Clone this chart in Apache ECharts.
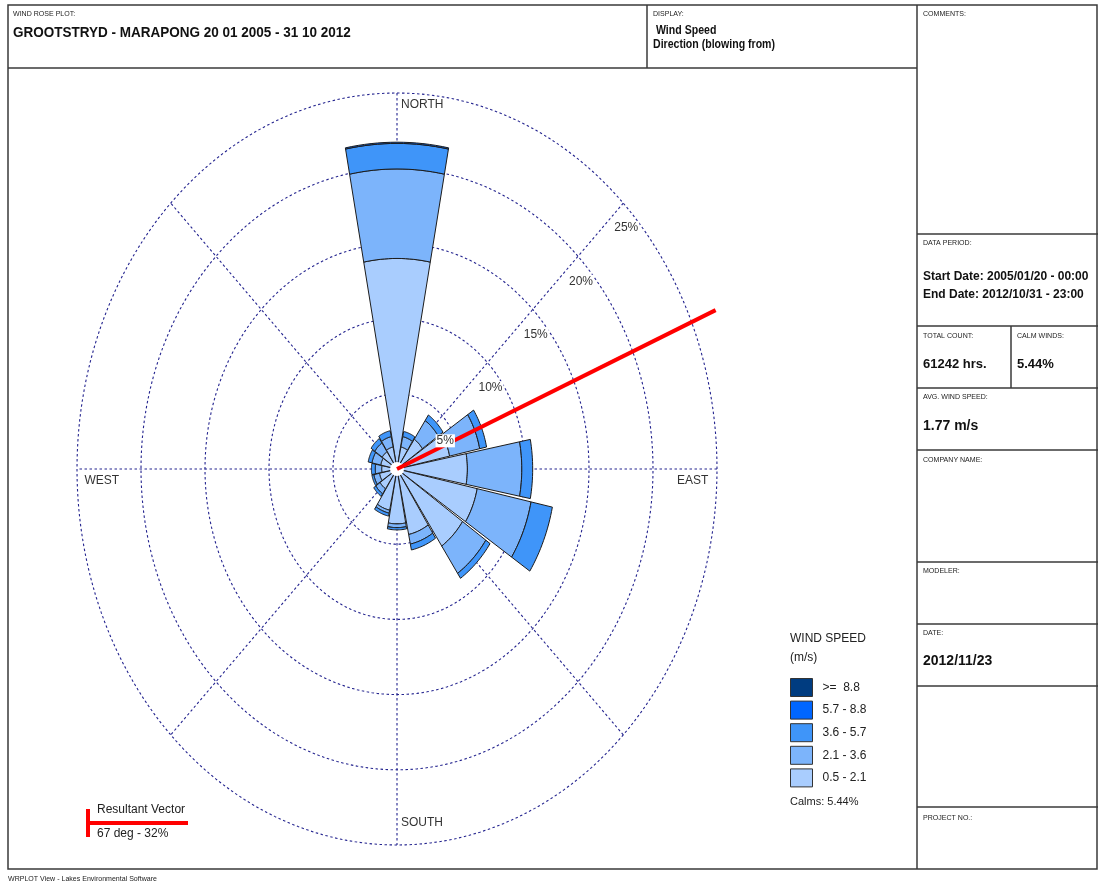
<!DOCTYPE html>
<html>
<head>
<meta charset="utf-8">
<script src="https://cdn.jsdelivr.net/npm/echarts@6/dist/echarts.min.js"></script>
<style>
  html, body { margin: 0; padding: 0; background: #fff; }
  #chart { width: 1098px; height: 883px; }
</style>
</head>
<body>
<div id="chart"></div>
<script>
// Wind rose: frequency (%) of hours per direction (blowing from) and speed class
const directions = ['N', 'NNE', 'NE', 'ENE', 'E', 'ESE', 'SE', 'SSE', 'S', 'SSW', 'SW', 'WSW', 'W', 'WNW', 'NW', 'NNW'];
const speedClasses = ['0.5 - 2.1', '2.1 - 3.6', '3.6 - 5.7', '5.7 - 8.8', '>=  8.8'];
const freq05to21 = [14.0, 1.5, 2.4, 4.2, 5.5, 6.4, 6.2, 4.45, 3.65, 2.8, 1.6, 1.4, 1.2, 1.3, 1.4, 1.5];
const freq21to36 = [5.95, 0.7, 1.5, 2.4, 4.25, 4.3, 2.2, 0.65, 0.25, 0.2, 0.4, 0.45, 0.5, 0.7, 0.7, 0.7];
const freq36to57 = [1.7, 0.35, 0.45, 0.55, 0.85, 1.7, 0.4, 0.4, 0.15, 0.2, 0.2, 0.15, 0.3, 0.3, 0.35, 0.4];
const freq57to88 = [0.08, 0, 0, 0, 0, 0, 0, 0, 0, 0, 0, 0, 0, 0, 0, 0];
const freq88up   = [0, 0, 0, 0, 0, 0, 0, 0, 0, 0, 0, 0, 0, 0, 0, 0];
const ringValues = [5, 10, 15, 20, 25];
const ringLabels = ['5%', '10%', '15%', '20%', '25%'];
const compassNames = ['NORTH', 'EAST', 'SOUTH', 'WEST'];
const calmsPct = 5.44;
const resultantDeg = 67;
const resultantPct = 32;

const classFreqs = [freq05to21, freq21to36, freq36to57, freq57to88, freq88up];
const classColors = ['#A9CDFE', '#7CB4FB', '#3F95F9', '#0066FF', '#003C80'];
const gridColor = '#24248F';
const sectorHalf = 10.7;          // half angular width of each direction bar (deg)
const vectorReach = 0.845;        // share of the resultant magnitude drawn on the radial scale
const maxR = 25;

const FONT = '"Liberation Sans", Arial, sans-serif';

function polarPt(api, r, deg) {
  const a = deg * Math.PI / 180;
  return api.coord([r * Math.sin(a), r * Math.cos(a)]);
}

// cumulative stacking of the speed classes
const series = [];
const base = directions.map(() => 0);
classFreqs.forEach((arr, k) => {
  const data = directions.map((d, i) => {
    const r0 = base[i];
    const r1 = r0 + arr[i];
    base[i] = r1;
    return [i, r0, r1];
  });
  series.push({
    type: 'custom',
    name: speedClasses[k],
    coordinateSystem: 'cartesian2d',
    z: 3,
    itemStyle: { color: classColors[k] },
    data: data,
    renderItem: function (params, api) {
      const i = api.value(0), r0 = api.value(1), r1 = api.value(2);
      if (r1 - r0 <= 0) return null;
      const c = i * 22.5;
      const pts = [];
      const steps = 16;
      for (let s = 0; s <= steps; s++) {
        pts.push(polarPt(api, r1, c - sectorHalf + 2 * sectorHalf * s / steps));
      }
      if (r0 <= 0) {
        pts.push(polarPt(api, 0, 0));
      } else {
        for (let s = steps; s >= 0; s--) {
          pts.push(polarPt(api, r0, c - sectorHalf + 2 * sectorHalf * s / steps));
        }
      }
      return {
        type: 'polygon',
        shape: { points: pts },
        style: { fill: classColors[k], stroke: '#1c1c1c', lineWidth: 1 }
      };
    }
  });
});

// dashed concentric rings
series.push({
  type: 'custom',
  coordinateSystem: 'cartesian2d',
  silent: true,
  z: 1,
  data: ringValues.map(v => [v]),
  renderItem: function (params, api) {
    const r = api.value(0);
    const pts = [];
    for (let s = 0; s <= 240; s++) pts.push(polarPt(api, r, s * 360 / 240));
    return {
      type: 'polyline',
      shape: { points: pts },
      style: { fill: null, stroke: gridColor, lineWidth: 1.1, lineDash: [2.5, 2.5] }
    };
  }
});

// dashed spokes every 45 degrees
series.push({
  type: 'custom',
  coordinateSystem: 'cartesian2d',
  silent: true,
  z: 1,
  data: [[0], [45], [90], [135]],
  renderItem: function (params, api) {
    const a = api.value(0);
    const p1 = polarPt(api, maxR, a), p2 = polarPt(api, maxR, a + 180);
    return {
      type: 'line',
      shape: { x1: p1[0], y1: p1[1], x2: p2[0], y2: p2[1] },
      style: { stroke: gridColor, lineWidth: 1.1, lineDash: [2.5, 2.5] }
    };
  }
});

// calm centre
series.push({
  type: 'custom',
  coordinateSystem: 'cartesian2d',
  silent: true,
  z: 4,
  data: [[calmsPct]],
  renderItem: function (params, api) {
    const c = polarPt(api, 0, 0);
    return { type: 'circle', shape: { cx: c[0], cy: c[1], r: 7 }, style: { fill: '#fff' } };
  }
});

// resultant vector
series.push({
  type: 'custom',
  coordinateSystem: 'cartesian2d',
  silent: true,
  z: 5,
  data: [[resultantDeg, resultantPct]],
  renderItem: function (params, api) {
    const c = polarPt(api, 0, 0);
    const e = polarPt(api, api.value(1) * vectorReach, api.value(0));
    return {
      type: 'line',
      shape: { x1: c[0], y1: c[1], x2: e[0], y2: e[1] },
      style: { stroke: '#FF0000', lineWidth: 4 }
    };
  }
});

// ring percentage labels
series.push({
  type: 'custom',
  coordinateSystem: 'cartesian2d',
  silent: true,
  z: 6,
  data: ringValues.map((v, i) => [v, i]),
  renderItem: function (params, api) {
    const p = polarPt(api, api.value(0), 45);
    return {
      type: 'text',
      x: p[0] + 3, y: p[1] + 25,
      style: {
        text: ringLabels[api.value(1)], fill: '#333', font: '12px ' + FONT,
        align: 'center', verticalAlign: 'middle',
        backgroundColor: '#fff', padding: [1, 1, 0, 1]
      }
    };
  }
});

// compass labels
const compassLayout = [
  { deg: 0,   r: 24.2, dx: 4,  dy: 0,  align: 'left' },
  { deg: 90,  r: 24.4, dx: -1, dy: 12, align: 'right' },
  { deg: 180, r: 23.5, dx: 4,  dy: 0,  align: 'left' },
  { deg: 270, r: 24.5, dx: 1,  dy: 12, align: 'left' }
];
series.push({
  type: 'custom',
  coordinateSystem: 'cartesian2d',
  silent: true,
  z: 6,
  data: compassNames.map((n, i) => [i]),
  renderItem: function (params, api) {
    const L = compassLayout[api.value(0)];
    const p = polarPt(api, L.r, L.deg);
    return {
      type: 'text',
      x: p[0] + L.dx, y: p[1] + L.dy,
      style: {
        text: compassNames[api.value(0)], fill: '#333', font: '12px ' + FONT,
        align: L.align, verticalAlign: 'middle'
      }
    };
  }
});

// page frame and info panels
const lineStyle = { stroke: '#3a3a3a', lineWidth: 1.5 };
function hline(x1, x2, y) { return { type: 'line', shape: { x1, y1: y, x2, y2: y }, style: lineStyle, silent: true }; }
function vline(x, y1, y2) { return { type: 'line', shape: { x1: x, y1, x2: x, y2 }, style: lineStyle, silent: true }; }
function txt(x, y, text, font, color, sx) {
  return { type: 'text', x, y, scaleX: sx || 1, silent: true, style: { text, font, fill: color || '#111', verticalAlign: 'middle' } };
}
const small = '8px ' + FONT;
const smallSx = 0.88;
const graphics = [
  { type: 'rect', shape: { x: 8, y: 5, width: 1089, height: 864 }, style: { fill: null, stroke: '#3a3a3a', lineWidth: 1.5 }, silent: true },
  hline(8, 917, 68), vline(647, 5, 68), vline(917, 5, 869),
  hline(917, 1098, 234), hline(917, 1098, 326), vline(1011, 326, 388), hline(917, 1098, 388),
  hline(917, 1098, 450), hline(917, 1098, 562), hline(917, 1098, 624), hline(917, 1098, 686), hline(917, 1098, 807),
  txt(13, 14, 'WIND ROSE PLOT:', small, '#222', smallSx),
  txt(13, 33, 'GROOTSTRYD - MARAPONG 20 01 2005 - 31 10 2012', 'bold 15px ' + FONT, '#111', 0.9),
  txt(653, 14, 'DISPLAY:', small, '#222', smallSx),
  txt(656, 31, 'Wind Speed', 'bold 12px ' + FONT, '#111', 0.88),
  txt(653, 45, 'Direction (blowing from)', 'bold 12px ' + FONT, '#111', 0.88),
  txt(923, 14, 'COMMENTS:', small, '#222', smallSx),
  txt(923, 243, 'DATA PERIOD:', small, '#222', smallSx),
  txt(923, 277, 'Start Date: 2005/01/20 - 00:00', 'bold 12px ' + FONT),
  txt(923, 295, 'End Date: 2012/10/31 - 23:00', 'bold 12px ' + FONT),
  txt(923, 336, 'TOTAL COUNT:', small, '#222', smallSx),
  txt(1017, 336, 'CALM WINDS:', small, '#222', smallSx),
  txt(923, 364, '61242 hrs.', 'bold 13px ' + FONT),
  txt(1017, 364, calmsPct.toFixed(2) + '%', 'bold 13px ' + FONT),
  txt(923, 397, 'AVG. WIND SPEED:', small, '#222', smallSx),
  txt(923, 426, '1.77 m/s', 'bold 14px ' + FONT),
  txt(923, 460, 'COMPANY NAME:', small, '#222', smallSx),
  txt(923, 571, 'MODELER:', small, '#222', smallSx),
  txt(923, 633, 'DATE:', small, '#222', smallSx),
  txt(923, 661, '2012/11/23', 'bold 14px ' + FONT),
  txt(923, 818, 'PROJECT NO.:', small, '#222', smallSx),
  txt(8, 879, 'WRPLOT View - Lakes Environmental Software', small, '#222', smallSx),
  txt(790, 639, 'WIND SPEED', '12px ' + FONT, '#222'),
  txt(790, 658, '(m/s)', '12px ' + FONT, '#222'),
  txt(790, 802, 'Calms: ' + calmsPct.toFixed(2) + '%', '11px ' + FONT, '#222'),
  // resultant vector key
  { type: 'line', shape: { x1: 88, y1: 809, x2: 88, y2: 837 }, style: { stroke: '#FF0000', lineWidth: 4 }, silent: true },
  { type: 'line', shape: { x1: 88, y1: 823, x2: 188, y2: 823 }, style: { stroke: '#FF0000', lineWidth: 4 }, silent: true },
  txt(97, 810, 'Resultant Vector', '12px ' + FONT, '#222'),
  txt(97, 834, resultantDeg + ' deg - ' + resultantPct + '%', '12px ' + FONT, '#222')
];

const chart = echarts.init(document.getElementById('chart'), null, { renderer: 'canvas' });
chart.setOption({
  animation: false,
  backgroundColor: '#fff',
  grid: { left: 77, top: 93, width: 640, height: 752 },
  xAxis: { type: 'value', min: -maxR, max: maxR, show: false },
  yAxis: { type: 'value', min: -maxR, max: maxR, show: false },
  legend: {
    orient: 'vertical',
    left: 790, top: 678,
    padding: 0,
    itemWidth: 22, itemHeight: 18, itemGap: 3.6,
    icon: 'rect',
    selectedMode: false,
    itemStyle: { borderColor: '#333', borderWidth: 1 },
    textStyle: { fontSize: 12, fontFamily: FONT, color: '#222', padding: [0, 0, 0, 5] },
    data: speedClasses.slice().reverse()
  },
  graphic: graphics,
  series: series
});
</script>
</body>
</html>
